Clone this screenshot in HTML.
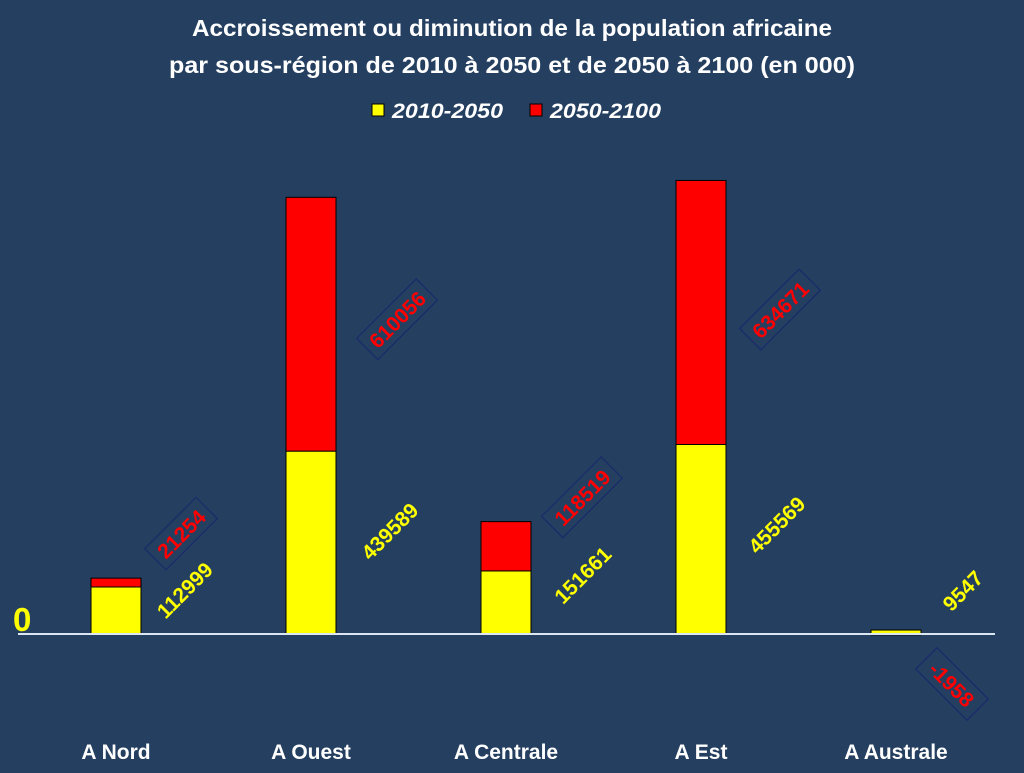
<!DOCTYPE html>
<html><head><meta charset="utf-8"><style>
body{margin:0;background:#243F60;}
svg text{font-family:"Liberation Sans",Arial,sans-serif;font-weight:bold;}
</style></head><body>
<svg width="1024" height="768">
<rect width="1024" height="768" fill="#243F60"/>
<text x="512" y="36" text-anchor="middle" fill="#fff" font-size="23" textLength="640" lengthAdjust="spacingAndGlyphs">Accroissement ou diminution de la population africaine</text>
<text x="512" y="73" text-anchor="middle" fill="#fff" font-size="23" textLength="686" lengthAdjust="spacingAndGlyphs">par sous-région de 2010 à 2050 et de 2050 à 2100 (en 000)</text>
<g>
<rect x="372" y="104" width="12" height="12" fill="#ffff00" stroke="#000"/>
<text x="392" y="118" fill="#fff" font-size="21" font-style="italic" font-weight="normal" textLength="111" lengthAdjust="spacingAndGlyphs">2010-2050</text>
<rect x="530" y="104" width="12" height="12" fill="#ff0000" stroke="#000"/>
<text x="550" y="118" fill="#fff" font-size="21" font-style="italic" font-weight="normal" textLength="111" lengthAdjust="spacingAndGlyphs">2050-2100</text>
</g>
<text x="13" y="631" fill="#ffff00" font-size="33">0</text>
<g id="plot"></g>
<line x1="18" y1="634" x2="995" y2="634" stroke="#dce6f2" stroke-width="2"/>
</svg>
<script>
const categories=["A Nord","A Ouest","A Centrale","A Est","A Australe"];
const series1=[112999,439589,151661,455569,9547];
const series2=[21254,610056,118519,634671,-1958];
// label offsets (layout only)
const yOff=[[69,-20],[79,-11],[77,-27],[76,-14],[67,-41]];
const rOff=[[65,-49],[86,-5],[76,-49],[79,-3],[56,50]];
const base=634, scale=0.000416, x0=116, step=195, bw=50;
const y=v=>base-v*scale;
const NS="http://www.w3.org/2000/svg";
const g=document.getElementById('plot');
function mk(t,a,p){const e=document.createElementNS(NS,t);for(const k in a)e.setAttribute(k,a[k]);(p||g).appendChild(e);return e;}
categories.forEach((c,i)=>{
  const cx=x0+i*step;
  const y1=y(series1[i]);
  const r1=mk('rect',{x:cx-bw/2,y:y1,width:bw,height:base-y1,fill:'#ffff00',stroke:'#000','stroke-width':1});
  
  
  let ys,h;
  if(series2[i]>=0){ys=y(series1[i]+series2[i]);h=y1-ys;}else{ys=base;h=-series2[i]*scale;}
  const r2=mk('rect',{x:cx-bw/2,y:ys,width:bw,height:Math.max(h,0.5),fill:'#ff0000',stroke:'#000','stroke-width':1});
  
  
  const lx=cx+yOff[i][0], ly=(y1+base)/2+yOff[i][1];
  const t=mk('text',{x:0,y:7,'text-anchor':'middle',fill:'#ffff00','font-size':21,transform:`translate(${lx},${ly}) rotate(-45)`});
  t.textContent=series1[i];
  
  
  const rm=series2[i]>=0?ys+h/2:base;
  const rx=cx+rOff[i][0], ry=rm+rOff[i][1];
  const ang=series2[i]>=0?-45:45;
  const gg=mk('g',{transform:`translate(${rx},${ry}) rotate(${ang})`});
  
  
  const s=String(series2[i]);
  const w=s.length*11.7+14;
  mk('rect',{x:-w/2,y:-15,width:w,height:30,fill:'none',stroke:'#1a2a6a','stroke-width':1.2},gg);
  const tt=mk('text',{x:0,y:8,'text-anchor':'middle',fill:'#ff0000','font-size':21},gg);
  tt.textContent=s;
  const ct=mk('text',{x:cx,y:759,'text-anchor':'middle',fill:'#fff','font-size':21});
  ct.textContent=c;
  
  
});
</script>
</body></html>
